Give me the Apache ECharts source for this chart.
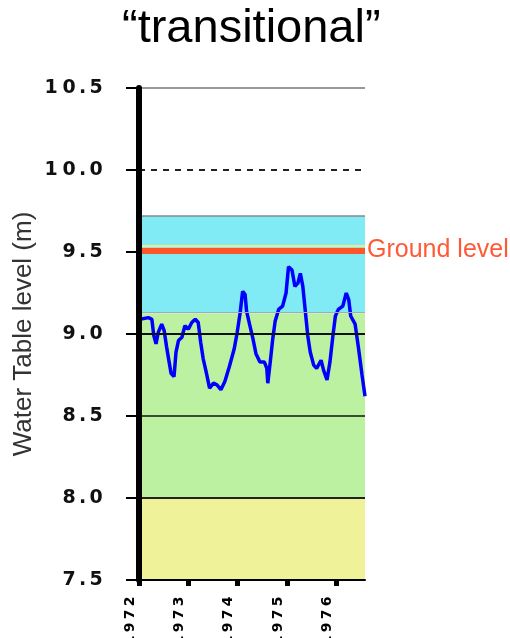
<!DOCTYPE html>
<html>
<head>
<meta charset="utf-8">
<script src="https://cdn.jsdelivr.net/npm/echarts@6/dist/echarts.min.js"></script>
<style>
  html, body { margin: 0; padding: 0; background: #fff; }
  #chart { width: 510px; height: 638px; }
</style>
</head>
<body>
<div id="chart"></div>
<script>
// decimal year of each reading
const years = [
  1972.02, 1972.05, 1972.19, 1972.26, 1972.30, 1972.345, 1972.39, 1972.46, 1972.51, 1972.56,
  1972.61, 1972.65, 1972.71, 1972.75, 1972.80, 1972.87, 1972.93, 1973.00, 1973.07, 1973.14,
  1973.20, 1973.25, 1973.30, 1973.36, 1973.43, 1973.51, 1973.58, 1973.66, 1973.74, 1973.83,
  1973.93, 1973.99, 1974.05, 1974.10, 1974.15, 1974.18, 1974.24, 1974.31, 1974.37, 1974.45,
  1974.54, 1974.59, 1974.61, 1974.66, 1974.71, 1974.76, 1974.83, 1974.91, 1974.98, 1975.03,
  1975.10, 1975.16, 1975.22, 1975.27, 1975.32, 1975.37, 1975.42, 1975.47, 1975.54, 1975.60,
  1975.69, 1975.74, 1975.81, 1975.87, 1975.93, 1975.98, 1976.04, 1976.13, 1976.20, 1976.25,
  1976.29, 1976.38, 1976.45, 1976.52, 1976.58
];
// water table level (m)
const levels = [
  9.09, 9.09, 9.10, 9.09, 8.99, 8.94, 9.01, 9.06, 9.02, 8.92,
  8.83, 8.76, 8.74, 8.89, 8.96, 8.98, 9.05, 9.03, 9.07, 9.09,
  9.07, 8.95, 8.85, 8.77, 8.67, 8.70, 8.69, 8.66, 8.71, 8.80,
  8.91, 9.01, 9.13, 9.26, 9.24, 9.14, 9.06, 8.97, 8.88, 8.83,
  8.83, 8.79, 8.70, 8.83, 8.97, 9.08, 9.15, 9.17, 9.25, 9.41,
  9.39, 9.29, 9.31, 9.37, 9.29, 9.14, 8.99, 8.89, 8.81, 8.79,
  8.84, 8.78, 8.72, 8.83, 8.99, 9.11, 9.15, 9.17, 9.25, 9.21,
  9.11, 9.06, 8.91, 8.75, 8.62
];
const yearTicks = [1972, 1973, 1974, 1975, 1976];

// shaded zones [from, to, colour]
const zoneBounds = [[9.125, 9.72], [8.0, 9.125], [7.5, 8.0]];
const zoneColors = ['#80ebf4', '#bcf1a2', '#eff299'];

// reference lines
const groundLevel = 9.505;
const levelLines = [10.5, 10.0, 9.72, 9.125, 9.0, 8.5, 8.0];

const chart = echarts.init(document.getElementById('chart'));

// spread characters out like the stretched original labels
function spread(str, tag) {
  return str.split('').map(c => c === '.' ? `{${tag}p|${c}}` : `{${tag}|${c}}`).join('');
}

const lineStyles = {
  10.5: { color: '#999', width: 2, type: 'solid' },
  10.0: { color: '#222', width: 2, type: [6, 6] },
  9.72: { color: '#888', width: 1.5, type: 'solid' },
  9.125: { color: '#aaa', width: 1, type: 'solid' },
  9.0: { color: '#111', width: 2, type: 'solid' },
  8.5: { color: '#111', width: 1.5, type: 'solid' },
  8.0: { color: '#222', width: 2, type: 'solid' }
};

const option = {
  animation: false,
  title: {
    text: '\u201Ctransitional\u201D',
    left: 117,
    top: 1,
    textStyle: { fontFamily: 'Liberation Sans', fontSize: 47, fontWeight: 'normal', color: '#000' }
  },
  grid: { left: 139, right: 145, top: 88, bottom: 58, outerBoundsMode: 'none', containLabel: false },
  xAxis: {
    type: 'value',
    min: 1972,
    max: 1976.58,
    interval: 1,
    z: 10,
    axisLine: { lineStyle: { color: '#000', width: 2 } },
    axisTick: { customValues: yearTicks, length: 6, lineStyle: { color: '#000', width: 5 } },
    splitLine: { show: false },
    axisLabel: {
      customValues: yearTicks,
      rotate: 90,
      margin: 15,
      verticalAlign: 'bottom',
      lineHeight: 18,
      formatter: v => spread(String(Math.round(v)), 'x'),
      rich: {
        x: { fontFamily: 'DejaVu Sans', fontWeight: 'bold', fontSize: 14, width: 13, align: 'center', color: '#000' },
        xp: { fontFamily: 'DejaVu Sans', fontWeight: 'bold', fontSize: 14, width: 7, align: 'center', color: '#000' }
      }
    }
  },
  yAxis: {
    type: 'value',
    min: 7.5,
    max: 10.5,
    interval: 0.5,
    z: 10,
    name: 'Water Table level (m)',
    nameLocation: 'middle',
    nameGap: 102,
    nameTextStyle: { fontFamily: 'Liberation Sans', fontSize: 26, color: '#333' },
    axisLine: { show: true, lineStyle: { color: '#000', width: 6 } },
    axisTick: { show: true, length: 13, lineStyle: { color: '#000', width: 2 } },
    splitLine: { show: false },
    axisLabel: {
      margin: 34,
      formatter: v => spread(v.toFixed(1), 'y'),
      rich: {
        y: { fontFamily: 'DejaVu Sans', fontWeight: 'bold', fontSize: 19, width: 18, align: 'center', color: '#111' },
        yp: { fontFamily: 'DejaVu Sans', fontWeight: 'bold', fontSize: 19, width: 9, align: 'center', color: '#111' }
      }
    }
  },
  series: [
    {
      type: 'line',
      z: 1,
      silent: true,
      showSymbol: false,
      lineStyle: { opacity: 0 },
      data: years.map((y, i) => [y, levels[i]]),
      markArea: {
        silent: true,
        data: zoneBounds.map((b, i) => [
          { yAxis: b[0], itemStyle: { color: zoneColors[i] } },
          { yAxis: b[1] }
        ])
      },
      markLine: {
        silent: true,
        symbol: 'none',
        label: { show: false },
        data: levelLines.map(v => ({ yAxis: v, lineStyle: lineStyles[v] })).concat([
          { yAxis: groundLevel + 0.035, lineStyle: { color: '#f3e88c', width: 2, type: 'solid' } },
          {
            yAxis: groundLevel,
            lineStyle: { color: '#ff5627', width: 6, type: 'solid' },
            label: {
              show: true,
              position: 'end',
              distance: 2,
              formatter: 'Ground level',
              fontFamily: 'Liberation Sans',
              fontSize: 25,
              color: '#ff5a36'
            }
          }
        ])
      }
    },
    {
      type: 'line',
      z: 3,
      showSymbol: false,
      data: years.map((y, i) => [y, levels[i]]),
      lineStyle: { color: '#0000ff', width: 3.5 },
      itemStyle: { color: '#0000ff' }
    }
  ]
};

chart.setOption(option);
</script>
</body>
</html>
